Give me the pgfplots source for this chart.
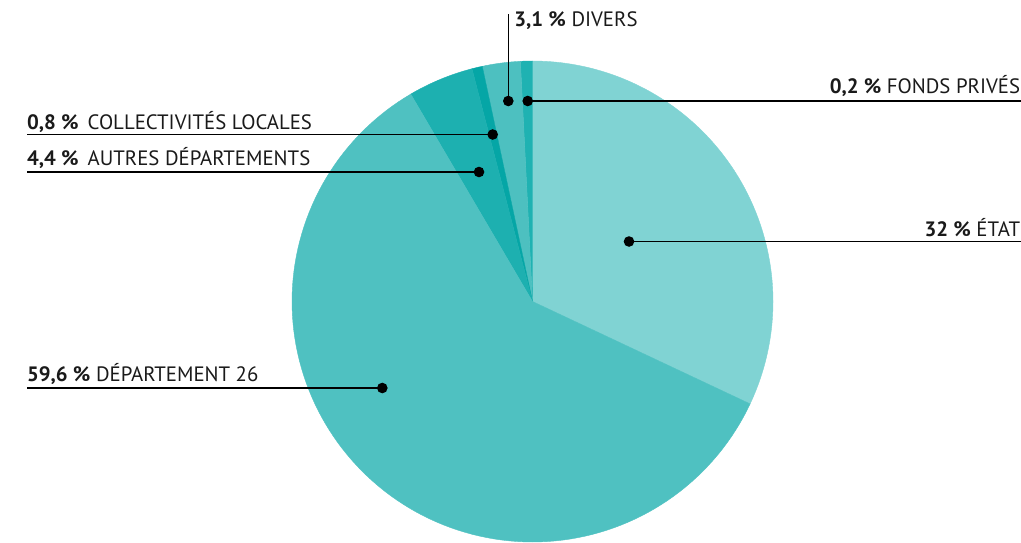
\documentclass[border=0pt]{standalone}
\usepackage{pgfplots}
\pgfplotsset{compat=1.18}
\usepackage{fontspec}
\setmainfont{PT Sans}
\definecolor{cEtat}{HTML}{80D3D3}
\definecolor{cDep}{HTML}{4FC1C1}
\definecolor{cAutres}{HTML}{1DB0B0}
\definecolor{cColl}{HTML}{05A6A6}
\definecolor{cDivers}{HTML}{4DC0C0}
\definecolor{cFonds}{HTML}{1FB2B2}
\definecolor{txt}{HTML}{1A1A1A}
\tikzset{lbl/.style={inner sep=0pt, text=txt, font=\fontsize{10.4}{12}\selectfont}}
\pgfplotsset{leader/.style={black, line width=0.65pt, mark=*, mark indices={1}, mark size=2.3pt, mark options={solid, fill=black}}}
% pie centre and radius (pixel units, y measured from bottom)
\def\cx{532.5}
\def\cy{240.5}
\def\rr{240.5}
% slice from cumulative percent #1 to #2 (counter-clockwise from top)
\newcommand{\slice}[3]{%
  \addplot[fill=#3, draw=#3, line width=0.2pt, domain={90+3.6*(#1)}:{90+3.6*(#2)}, samples=120]
    ({\cx+\rr*cos(x)},{\cy+\rr*sin(x)}) -- (axis cs:\cx,\cy) -- cycle;}
\begin{document}
\begin{tikzpicture}
\begin{axis}[
  scale only axis, width=510.5pt, height=271pt,
  xmin=0, xmax=1021, ymin=0, ymax=542,
  hide axis, clip=true,
]
% slices: percentages 32 (Etat, clockwise), 0.8, 2.55, 0.7, 4.4, 59.55
\slice{-32}{0}{cEtat}
\slice{0}{0.8}{cFonds}
\slice{0.8}{3.35}{cDivers}
\slice{3.35}{4.05}{cColl}
\slice{4.05}{8.45}{cAutres}
\slice{8.45}{68}{cDep}
% leader lines with dots
\addplot[leader] coordinates {(508.3,441) (508.3,528)};
\addplot[leader] coordinates {(527.7,441) (1021,441)};
\addplot[leader] coordinates {(492.7,407.5) (26.7,407.5)};
\addplot[leader] coordinates {(479,370) (26.7,370)};
\addplot[leader] coordinates {(629,300.5) (1021,300.5)};
\addplot[leader] coordinates {(382.3,154) (26.7,154)};
% labels
\node[lbl, anchor=base west] at (axis cs:514,515) {\textbf{3,1 \%} DIVERS};
\node[lbl, anchor=base east] at (axis cs:1020.5,448) {\textbf{0,2 \%} FONDS PRIVÉS};
\node[lbl, anchor=base west] at (axis cs:26.7,413) {\textbf{0,8 \%}\hspace{4.5pt}COLLECTIVITÉS LOCALES};
\node[lbl, anchor=base west] at (axis cs:26.7,376.3) {\textbf{4,4 \%}\hspace{4.5pt}AUTRES DÉPARTEMENTS};
\node[lbl, anchor=base east] at (axis cs:1020.5,305.3) {\textbf{32 \%} ÉTAT};
\node[lbl, anchor=base west] at (axis cs:26.7,160.3) {\textbf{59,6 \%} DÉPARTEMENT 26};
\end{axis}
\pgfresetboundingbox
\useasboundingbox (current axis.south west) rectangle (current axis.north east);
\end{tikzpicture}
\end{document}
